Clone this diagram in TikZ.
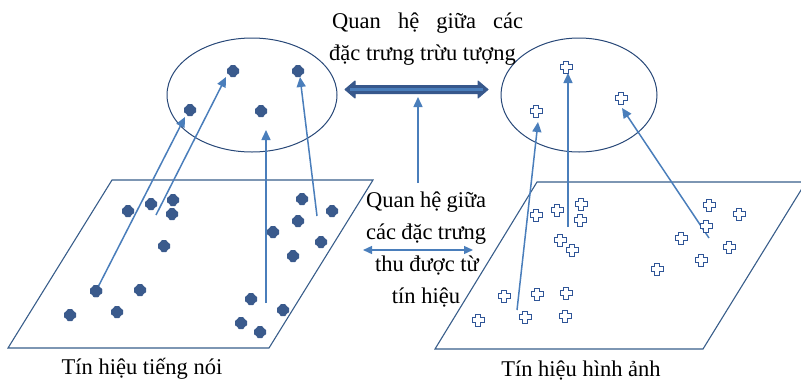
\documentclass[tikz,border=0pt]{standalone}
\usepackage{fontspec}
\setmainfont{Liberation Serif}
\usetikzlibrary{arrows.meta}
\definecolor{edgec}{RGB}{56,93,138}
\definecolor{ellc}{RGB}{40,72,120}
\definecolor{dotc}{RGB}{58,90,140}
\definecolor{arrc}{RGB}{74,126,187}
\definecolor{plusc}{RGB}{47,85,151}
\definecolor{bigc}{RGB}{55,88,140}
\tikzset{
  plane/.style={draw=edgec, line width=1.1pt},
  ell/.style={draw=ellc, line width=1pt},
  conn/.style={draw=arrc, line width=1.5pt, -{Triangle[length=10pt,width=9pt]}},
  dotn/.style={inner sep=0pt, minimum size=14pt,
    path picture={\fill[dotc, rounded corners=1.2pt, shift={(path picture bounding box.center)}]
      (-3.2pt,-6pt) -- (3.2pt,-6pt) -- (3.2pt,-3.2pt) -- (6pt,-3.2pt) -- (6pt,3.2pt) -- (3.2pt,3.2pt) --
      (3.2pt,6pt) -- (-3.2pt,6pt) -- (-3.2pt,3.2pt) -- (-6pt,3.2pt) -- (-6pt,-3.2pt) -- (-3.2pt,-3.2pt) -- cycle;}},
  plusn/.style={inner sep=0pt, minimum size=15pt,
    path picture={\filldraw[fill=white, draw=plusc, line width=1pt, shift={(path picture bounding box.center)}]
      (-2.2pt,-6pt) -- (2.2pt,-6pt) -- (2.2pt,-2.2pt) -- (6pt,-2.2pt) -- (6pt,2.2pt) -- (2.2pt,2.2pt) --
      (2.2pt,6pt) -- (-2.2pt,6pt) -- (-2.2pt,2.2pt) -- (-6pt,2.2pt) -- (-6pt,-2.2pt) -- (-2.2pt,-2.2pt) -- cycle;}},
  txt/.style={inner sep=0pt, anchor=base west, font=\fontsize{22.5}{25}\selectfont},
  ctxt/.style={inner sep=0pt, anchor=base, font=\fontsize{22.5}{25}\selectfont}
}
\begin{document}
\begin{tikzpicture}[x=1pt,y=-1pt]
\useasboundingbox (0,0) rectangle (801,381);
% planes
\draw[plane] (8,348) -- (112,180) -- (373,180) -- (269,348) -- cycle;
\draw[plane] (435,349) -- (537,182) -- (806,182) -- (703,349) -- cycle;
% ellipses
\draw[ell] (252,95) ellipse [x radius=85, y radius=57];
\draw[ell] (579,95) ellipse [x radius=78, y radius=57];
% texts
\node[txt] (t1) at (332,28) {\makebox[191pt][s]{Quan hệ giữa các}};
\node[txt] (t2) at (329,60) {đặc trưng trừu tượng};
\node[txt] (m1) at (366,207) {\makebox[120pt][s]{Quan hệ giữa}};
\node[txt] (m2) at (366,239) {\makebox[120pt][s]{các đặc trưng}};
\node[ctxt] (m3) at (427,271) {thu được từ};
\node[ctxt] (m4) at (426,303) {tín hiệu};
\node[ctxt] (lab1) at (142,374) {Tín hiệu tiếng nói};
\node[ctxt] (lab2) at (581,376) {Tín hiệu hình ảnh};
% coordinates
\coordinate (a1t) at (185,117);
\coordinate (a2s) at (156,215);
\coordinate (a2t) at (226,77);
\coordinate (a3s) at (266,303);
\coordinate (a3t) at (266,130);
\coordinate (a4s) at (317,216);
\coordinate (a4t) at (300,77);
\coordinate (b1s) at (517,310);
\coordinate (b1t) at (538,122);
\coordinate (b2s) at (568,227);
\coordinate (b2t) at (568,73);
\coordinate (b3s) at (709,238);
\coordinate (b3t) at (622,108);
\coordinate (vs) at (418,183);
\coordinate (vt) at (418,97);
\coordinate (hs) at (363,250);
\coordinate (ht) at (473,250);
% left plane dots
\node[dotn] (p1) at (96,291) {};
\draw[conn] (p1.center) -- (a1t);
\draw[conn] (a2s) -- (a2t);
\draw[conn] (a3s) -- (a3t);
\draw[conn] (a4s) -- (a4t);
\draw[conn] (b1s) -- (b1t);
\draw[conn] (b2s) -- (b2t);
\draw[conn] (b3s) -- (b3t);
\draw[conn] (vs) -- (vt);
\draw[draw=arrc, line width=1.3pt, {Triangle[length=9pt,width=8pt]}-{Triangle[length=9pt,width=8pt]}] (hs) -- (ht);
\node[dotn] (p1b) at (96,291) {};
\node[dotn] (p2) at (128,211) {};
\node[dotn] (p3) at (151,204) {};
\node[dotn] (p4) at (173,200) {};
\node[dotn] (p5) at (172,214) {};
\node[dotn] (p6) at (164,246) {};
\node[dotn] (p7) at (140,290) {};
\node[dotn] (p8) at (70,315) {};
\node[dotn] (p9) at (117,312) {};
\node[dotn] (p10) at (302,199) {};
\node[dotn] (p11) at (332,211) {};
\node[dotn] (p12) at (298,221) {};
\node[dotn] (p13) at (273,232) {};
\node[dotn] (p14) at (321,242) {};
\node[dotn] (p15) at (293,256) {};
\node[dotn] (p16) at (251,299) {};
\node[dotn] (p17) at (283,310) {};
\node[dotn] (p18) at (241,323) {};
\node[dotn] (p19) at (260,332) {};
% left ellipse dots
\node[dotn] (e1) at (233,71) {};
\node[dotn] (e2) at (298,71) {};
\node[dotn] (e3) at (190,110) {};
\node[dotn] (e4) at (261,111) {};
% right ellipse plus
\node[plusn] (f1) at (566,67) {};
\node[plusn] (f2) at (621,98) {};
\node[plusn] (f3) at (536,111) {};
% right plane plus
\node[plusn] (q1) at (536,215) {};
\node[plusn] (q2) at (557,210) {};
\node[plusn] (q3) at (581,204) {};
\node[plusn] (q4) at (580,220) {};
\node[plusn] (q5) at (560,240) {};
\node[plusn] (q6) at (572,250) {};
\node[plusn] (q7) at (504,296) {};
\node[plusn] (q8) at (537,294) {};
\node[plusn] (q9) at (566,293) {};
\node[plusn] (q10) at (478,320) {};
\node[plusn] (q11) at (525,317) {};
\node[plusn] (q12) at (565,316) {};
\node[plusn] (q13) at (709,205) {};
\node[plusn] (q14) at (739,214) {};
\node[plusn] (q15) at (706,226) {};
\node[plusn] (q16) at (681,238) {};
\node[plusn] (q17) at (729,247) {};
\node[plusn] (q18) at (701,260) {};
\node[plusn] (q19) at (657,269) {};
% thick double arrow
\coordinate (da) at (345,89.5);
\coordinate (db) at (488,89.5);
\filldraw[fill=bigc, draw=bigc, line width=1pt, line join=round]
  (da) -- (355,81) -- (355,85.5) -- (478,85.5) -- (478,81) -- (db) -- (478,98) -- (478,93.5) -- (355,93.5) -- (355,98) -- cycle;
\draw[arrc, line width=2.2pt] (350,89.5) -- (483,89.5);
\end{tikzpicture}
\end{document}
